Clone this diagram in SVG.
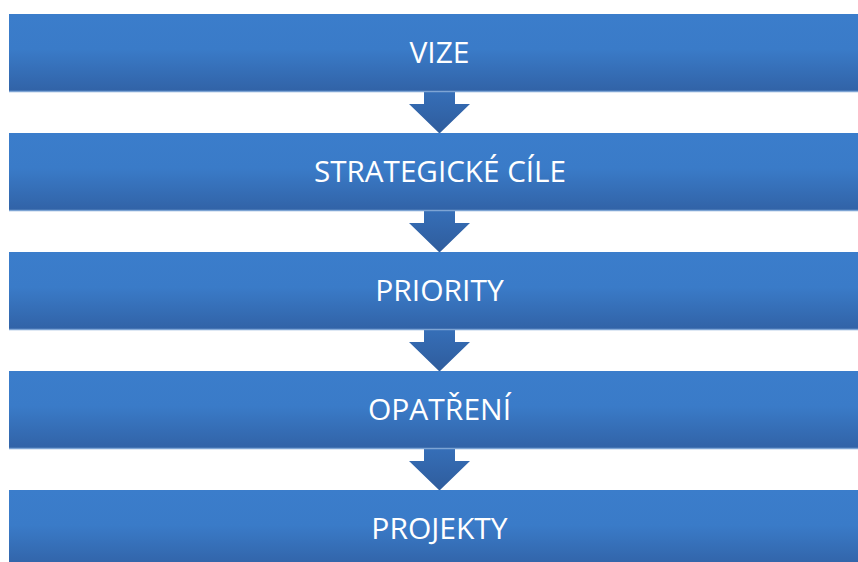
<svg xmlns="http://www.w3.org/2000/svg" width="858" height="562" viewBox="0 0 858 562">
<defs>
<linearGradient id="boxG" x1="0" y1="0" x2="0" y2="1">
<stop offset="0" stop-color="#3b7dcb"/>
<stop offset="0.45" stop-color="#3a7bc8"/>
<stop offset="1" stop-color="#3162a6"/>
</linearGradient>
<linearGradient id="arrG" x1="0" y1="0" x2="0" y2="1">
<stop offset="0" stop-color="#3670ba"/>
<stop offset="1" stop-color="#2f5c9c"/>
</linearGradient>
</defs>
<style>
.box{fill:url(#boxG);}
.edge{stroke:#7da4d4;stroke-width:1.5;}
.lbl{font-family:"Open Sans","Liberation Sans",sans-serif;font-size:30px;fill:#ffffff;text-anchor:middle;}
.arr{fill:url(#arrG);}
</style>
<rect width="858" height="562" fill="#ffffff"/>
<g id="connectors">
<polygon class="arr" points="424,88 455,88 455,104 470,104 439.5,133.5 409,104 424,104"/>
<polygon class="arr" points="424,207 455,207 455,223 470,223 439.5,252.5 409,223 424,223"/>
<polygon class="arr" points="424,326 455,326 455,342 470,342 439.5,371.5 409,342 424,342"/>
<polygon class="arr" points="424,445 455,445 455,461 470,461 439.5,490.5 409,461 424,461"/>
</g>
<g id="vize">
<rect class="box" x="9" y="14" width="860" height="78"/>
<line class="edge" x1="9" y1="91.5" x2="858" y2="91.5"/>
<text class="lbl" x="439.5" y="62.5">VIZE</text>
</g>
<g id="strategicke-cile">
<rect class="box" x="9" y="133" width="860" height="78"/>
<line class="edge" x1="9" y1="210.5" x2="858" y2="210.5"/>
<text class="lbl" x="440" y="181.5" textLength="252" lengthAdjust="spacingAndGlyphs">STRATEGICKÉ CÍLE</text>
</g>
<g id="priority">
<rect class="box" x="9" y="252" width="860" height="78"/>
<line class="edge" x1="9" y1="329.5" x2="858" y2="329.5"/>
<text class="lbl" x="439.5" y="300.5">PRIORITY</text>
</g>
<g id="opatreni">
<rect class="box" x="9" y="371" width="860" height="78"/>
<line class="edge" x1="9" y1="448.5" x2="858" y2="448.5"/>
<text class="lbl" x="439.5" y="419.5">OPATŘENÍ</text>
</g>
<g id="projekty">
<rect class="box" x="9" y="490" width="860" height="78"/>
<text class="lbl" x="439.5" y="538.5">PROJEKTY</text>
</g>
</svg>
